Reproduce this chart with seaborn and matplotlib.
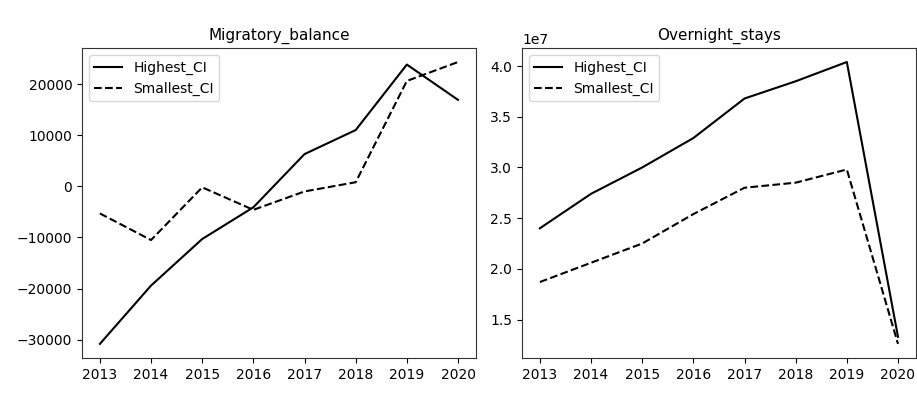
import matplotlib
matplotlib.use("Agg")
import matplotlib.pyplot as plt
import seaborn as sns

# =========================
# Data
# =========================
years = [2013, 2014, 2015, 2016, 2017, 2018, 2019, 2020]

migr_highest = [-30800, -19400, -10300, -4100, 6300, 11000, 23800, 16900]
migr_smallest = [-5300, -10500, -200, -4600, -1000, 800, 20600, 24300]

stays_highest = [2.40e7, 2.74e7, 3.00e7, 3.29e7, 3.68e7, 3.85e7, 4.04e7, 1.33e7]
stays_smallest = [1.87e7, 2.06e7, 2.25e7, 2.54e7, 2.80e7, 2.85e7, 2.98e7, 1.26e7]

titles = ["Migratory_balance", "Overnight_stays"]
series_labels = ["Highest_CI", "Smallest_CI"]

# =========================
# Plot
# =========================
fig = plt.figure(figsize=(9.17, 3.96), dpi=100)
ax1 = fig.add_axes([0.0894, 0.096, 0.4296, 0.783])
ax2 = fig.add_axes([0.5692, 0.096, 0.4296, 0.783])

panels = [
    (ax1, migr_highest, migr_smallest, titles[0]),
    (ax2, stays_highest, stays_smallest, titles[1]),
]

for ax, high, small, title in panels:
    sns.lineplot(x=years, y=high, color="black", linestyle="-",
                 linewidth=1.5, label=series_labels[0], ax=ax)
    sns.lineplot(x=years, y=small, color="black", linestyle="--",
                 linewidth=1.5, label=series_labels[1], ax=ax)
    ax.set_title(title, fontsize=11)
    ax.set_xticks(years)
    ax.tick_params(labelsize=10)
    ax.legend(loc="upper left", fontsize=10)
    for spine in ax.spines.values():
        spine.set_color("#333333")

ax1.set_yticks([-30000, -20000, -10000, 0, 10000, 20000])

plt.savefig("out.png", dpi=100)
